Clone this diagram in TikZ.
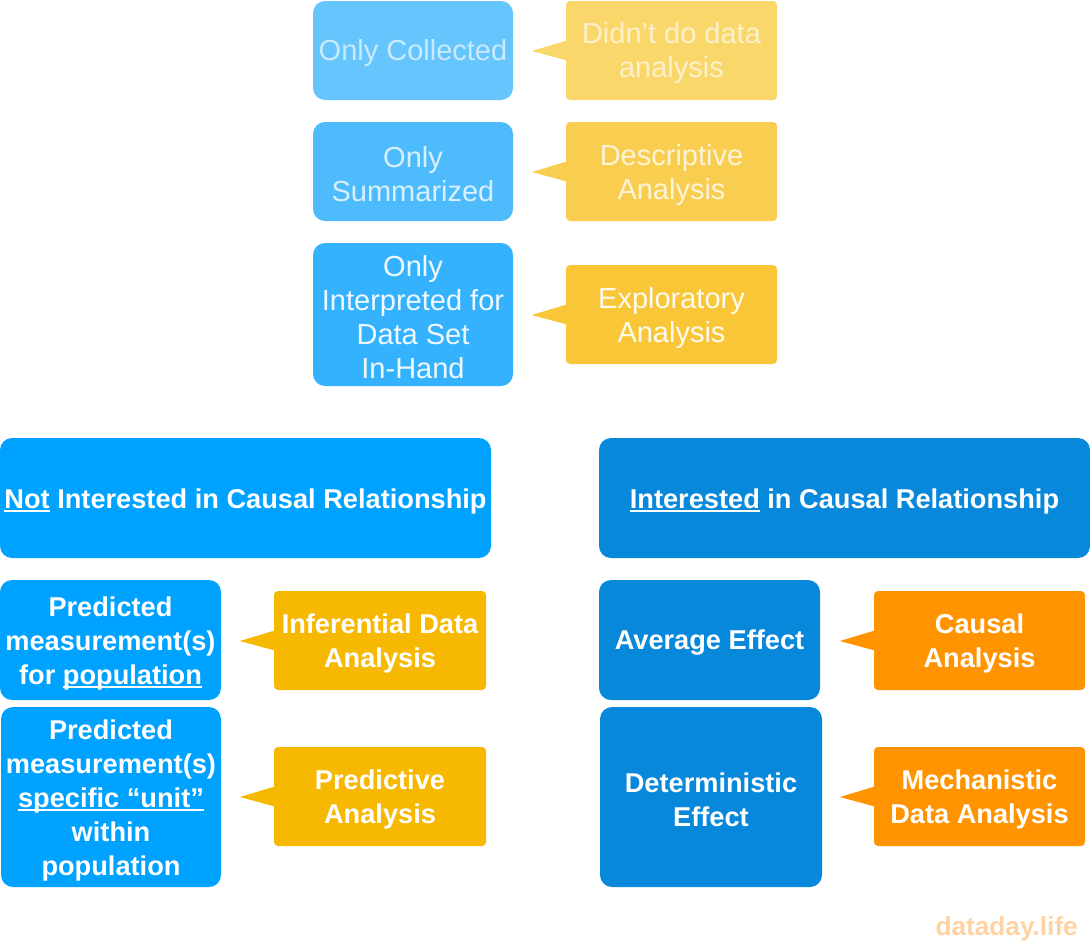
\documentclass[tikz,border=0pt]{standalone}
\usepackage{fontspec}
\setmainfont{Liberation Sans}
\newcommand\myul[1]{\setbox0\hbox{#1}\rlap{\rule[-0.13em]{\wd0}{0.07em}}\box0\relax}
\definecolor{blueA}{HTML}{66C5FD}
\definecolor{blueB}{HTML}{4EBBFD}
\definecolor{blueC}{HTML}{35B2FE}
\definecolor{yelA}{HTML}{FAD76B}
\definecolor{yelB}{HTML}{F9CE50}
\definecolor{yelC}{HTML}{F8C636}
\definecolor{blueL}{HTML}{00A2FF}
\definecolor{yelL}{HTML}{F6B800}
\definecolor{blueR}{HTML}{0888DA}
\definecolor{oraR}{HTML}{FF9300}
\definecolor{wmark}{HTML}{FFD2A3}
\begin{document}
\begin{tikzpicture}[x=1pt,y=1pt,
  bbox/.style={rounded corners=12pt,inner sep=0pt},
  ybox/.style={rounded corners=4pt,inner sep=0pt},
  toptext/.style={inner sep=0pt,align=center,text=white,font=\fontsize{29}{34}\selectfont},
  bottext/.style={inner sep=0pt,align=center,text=white,font=\fontsize{27.2}{34}\selectfont\bfseries},
]
\useasboundingbox (0,0) rectangle (1090,-945);
\newcommand\callout[2]{\fill[#2] ([xshift=1pt,yshift=10pt]#1.west) -- ([xshift=-34pt,yshift=-0.5pt]#1.west) -- ([xshift=1pt,yshift=-10pt]#1.west) -- cycle;}
% #1 name, #2 box style, #3 text style, #4 x, #5 y, #6 w, #7 h, #8 text
\newcommand\bx[8]{\node[#2,minimum width=#6pt,minimum height=#7pt] (#1) at (#4,-#5) {};
  \node[#3] (#1-t) at ([yshift=-3pt]#1.center) {#8};}
% top rows
\bx{oc}{bbox,fill=blueA}{toptext,text opacity=0.65}{413}{50.5}{200}{99}{Only Collected}
\bx{dd}{ybox,fill=yelA}{toptext,text opacity=0.65}{671.5}{50.5}{211}{99}{Didn’t do data\\analysis}
\callout{dd}{yelA}
\bx{os}{bbox,fill=blueB}{toptext,text opacity=0.78}{413}{171.5}{200}{99}{Only\\Summarized}
\bx{da}{ybox,fill=yelB}{toptext,text opacity=0.78}{671.5}{171.5}{211}{99}{Descriptive\\Analysis}
\callout{da}{yelB}
\bx{oi}{bbox,fill=blueC}{toptext,text opacity=0.92}{413}{314.5}{200}{143}{Only\\Interpreted for\\Data Set\\In-Hand}
\bx{ea}{ybox,fill=yelC}{toptext,text opacity=0.92}{671.5}{314.5}{211}{99}{Exploratory\\Analysis}
\callout{ea}{yelC}
% headers
\bx{ni}{bbox,fill=blueL}{bottext}{245.5}{498}{491}{120}{\myul{Not} Interested in Causal Relationship}
\bx{ic}{bbox,fill=blueR}{bottext}{844.5}{498}{491}{120}{\myul{Interested} in Causal Relationship}
% left bottom
\bx{pp}{bbox,fill=blueL}{bottext}{110.5}{640}{221}{120}{Predicted\\measurement(s)\\for \myul{population}}
\bx{pu}{bbox,fill=blueL}{bottext}{111}{797}{220}{180}{Predicted\\measurement(s)\\\myul{specific “unit”}\\within\\population}
\bx{ida}{ybox,fill=yelL}{bottext}{380}{640.5}{212}{99}{Inferential Data\\Analysis}
\callout{ida}{yelL}
\bx{pa}{ybox,fill=yelL}{bottext}{380}{796.5}{212}{99}{Predictive\\Analysis}
\callout{pa}{yelL}
% right bottom
\bx{ae}{bbox,fill=blueR}{bottext}{709.5}{640}{221}{120}{Average Effect}
\bx{de}{bbox,fill=blueR}{bottext}{711}{797}{222}{180}{Deterministic\\Effect}
\bx{ca}{ybox,fill=oraR}{bottext}{979.5}{640.5}{211}{99}{Causal\\Analysis}
\callout{ca}{oraR}
\bx{md}{ybox,fill=oraR}{bottext}{979.5}{796.5}{211}{99}{Mechanistic\\Data Analysis}
\callout{md}{oraR}
% watermark
\node[anchor=base east,inner sep=0pt,text=wmark,font=\fontsize{26.2}{30}\selectfont\bfseries] (wm) at (1078,-935) {dataday.life};
\end{tikzpicture}
\end{document}
